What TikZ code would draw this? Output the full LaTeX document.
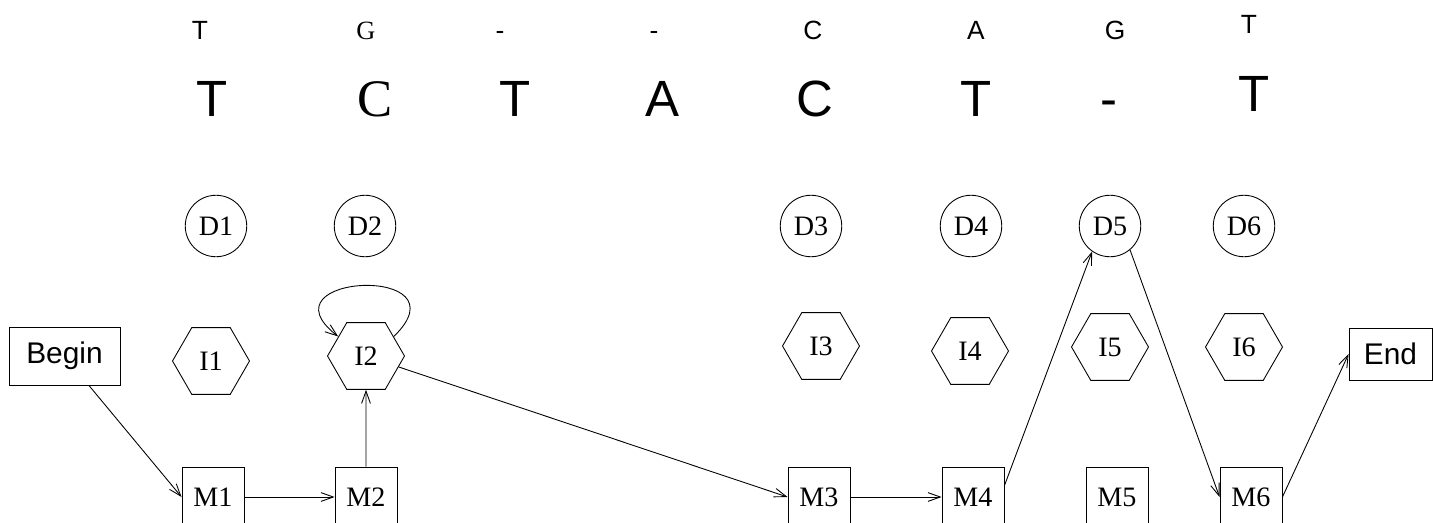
\documentclass[tikz,border=0pt]{standalone}
\usepackage{fontspec}
\setmainfont{Liberation Serif}
\setsansfont{Liberation Sans}
\usetikzlibrary{shapes.geometric,arrows.meta}

\begin{document}
\begin{tikzpicture}[x=0.02cm, y=0.02cm, line width=0.5pt,
    >={Straight Barb[length=7pt,width=5pt]},
    state/.style={draw, inner sep=0pt, font=\fontsize{16}{18}\selectfont},
    dstate/.style={state, circle, minimum size=1.23cm},
    istate/.style={state, regular polygon, regular polygon sides=6, minimum size=1.54cm},
    mstate/.style={state, minimum width=1.24cm, minimum height=1.2cm},
    terminal/.style={draw, inner sep=0pt, font=\sffamily\fontsize{17}{20}\selectfont},
    small/.style={anchor=base, font=\sffamily\fontsize{15}{18}\selectfont},
    big/.style={anchor=base, font=\sffamily\fontsize{29}{34}\selectfont}]
    \path[use as bounding box] (0, 0) rectangle (1433, 522);
    \clip (0, 0) rectangle (1433, 522);

    % the two sequences
    \foreach \x/\c [count=\i] in {200/T, 500/-, 654/-, 813/C, 976/A, 1115/G} {
        \node[small] (a\i) at (\x, 483) {\c};
    }
    \node[small, font=\rmfamily\fontsize{15}{17}\selectfont] (ag) at (366, 483) {G};
    \node[small] (at) at (1249, 489) {T};
    \foreach \x/\c [count=\i] in {212/T, 515/T, 662/A, 815/C, 976/T, 1109/-} {
        \node[big] (b\i) at (\x, 406) {\c};
    }
    \node[big, font=\rmfamily\fontsize{30}{34}\selectfont] (bc) at (375, 406) {C};
    \node[big] (bt) at (1254, 411) {T};

    % delete, insert and match states
    \foreach \x [count=\i] in {216, 365, 811, 971, 1110, 1244} {
        \node[dstate] (D\i) at (\x, 296) {D\i};
    }
    \foreach \x/\y [count=\i] in {211/161, 366/166, 821/176, 970/171, 1110/175, 1244/175} {
        \node[istate] (I\i) at (\x, \y) {I\i};
    }
    \foreach \x [count=\i] in {213, 366, 819, 973, 1117, 1251} {
        \node[mstate] (M\i) at (\x, 25) {M\i};
    }
    \node[terminal, minimum width=2.22cm, minimum height=1.16cm] (Begin) at (64.5, 166) {Begin};
    \node[terminal, minimum width=1.66cm, minimum height=1.04cm] (End) at (1390.5, 168) {End};

    % path through the model
    \draw[->] (Begin) -- (M1.west);
    \draw[->] (M1) -- (M2);
    \draw[->] (M2) -- (I2);
    \draw[->] (I2.35) .. controls +(75, 73) and +(-81, 63) .. (I2.145);
    \draw[->] (I2) -- (M3.west);
    \draw[->] (M3) -- (M4);
    \draw[->] (M4.20) -- (D5.235);
    \draw[->] (D5.310) -- (M6.west);
    \draw[->] (M6.east) -- (End.west);
\end{tikzpicture}
\end{document}
